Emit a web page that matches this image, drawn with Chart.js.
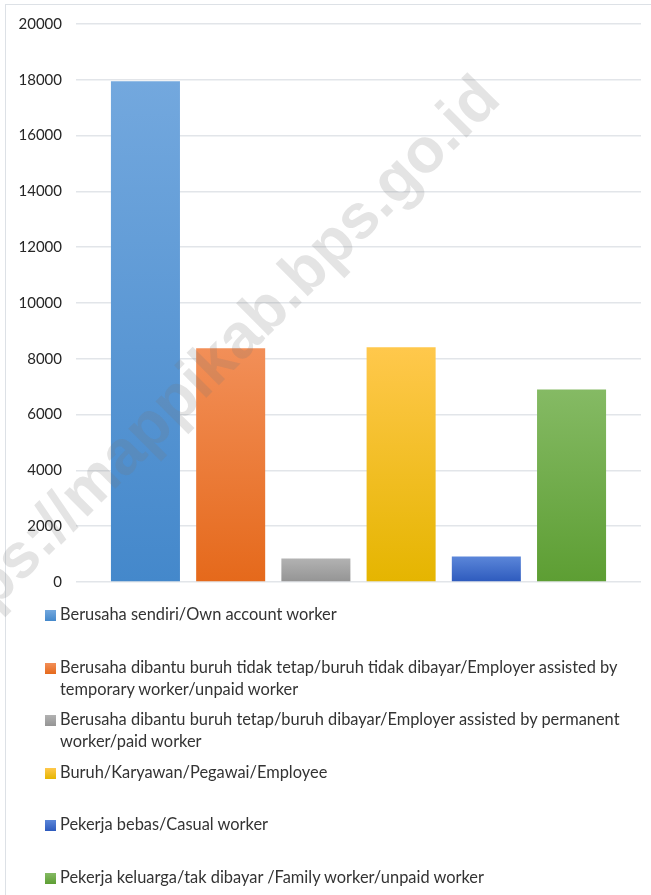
<!DOCTYPE html>
<html>
<head>
<meta charset="utf-8">
<script src="https://cdn.jsdelivr.net/npm/chart.js@4.4.1/dist/chart.umd.min.js"></script>
<style>
  html, body { margin: 0; padding: 0; background: #fff; }
  #page { position: relative; width: 651px; height: 895px; overflow: hidden; }
  #frame { position: absolute; left: 5px; top: 4px; right: -10px; bottom: -10px;
           border-left: 1px solid #dde1e6; border-top: 1px solid #dde1e6; }
  #chartBox { position: absolute; left: 0; top: 0; width: 651px; height: 605px; }
  #legend { position: absolute; left: 45px; top: 603px; width: 600px;
            font-family: Lato, sans-serif; font-size: 16.4px; color: #333; }
  .item { position: relative; height: 52.6px; }
  .box { position: absolute; left: 0; top: 7px; width: 11px; height: 11px; }
  .text { position: absolute; left: 15px; top: 0; width: 580px; line-height: 22px; }
  #mark { position: absolute; left: 0; top: 0; pointer-events: none; }
</style>
</head>
<body>
<div id="page">
  <div id="frame"></div>
  <div id="chartBox"><canvas id="chart"></canvas></div>
  <div id="legend"></div>
  <svg id="mark" width="651" height="895">
    <text x="-64" y="668" transform="rotate(-45 -64 668)" font-family="Liberation Sans, Arial, sans-serif"
          font-weight="bold" font-size="63" fill="rgba(120,120,120,0.2)">https://mappikab.bps.go.id</text>
  </svg>
</div>
<script>
// Data
const seriesNames = [
    'Berusaha sendiri/Own account worker',
    'Berusaha dibantu buruh tidak tetap/buruh tidak dibayar/Employer assisted by temporary worker/unpaid worker',
    'Berusaha dibantu buruh tetap/buruh dibayar/Employer assisted by permanent worker/paid worker',
    'Buruh/Karyawan/Pegawai/Employee',
    'Pekerja bebas/Casual worker',
    'Pekerja keluarga/tak dibayar /Family worker/unpaid worker'
];
const seriesValues = [17950, 8380, 840, 8410, 910, 6900];
const yTicks = [0, 2000, 4000, 6000, 8000, 10000, 12000, 14000, 16000, 18000, 20000];

// gradient colours (top, bottom)
const topColors = ['#73a8de', '#f28f58', '#b2b2b2', '#ffc84c', '#5b86d9', '#85ba64'];
const bottomColors = ['#4488cb', '#e5691b', '#949494', '#e5b500', '#2d5abd', '#5d9e33'];

function barFill(i) {
    return (ctx) => {
        const chart = ctx.chart;
        if (!chart.chartArea) return topColors[i];
        const y = chart.scales.y;
        const top = y.getPixelForValue(seriesValues[i]);
        const bottom = y.getPixelForValue(0);
        const g = chart.ctx.createLinearGradient(0, top, 0, bottom);
        g.addColorStop(0, topColors[i]);
        g.addColorStop(1, bottomColors[i]);
        return g;
    };
}

const datasets = seriesNames.map((name, i) => ({
    label: name,
    data: [seriesValues[i]],
    backgroundColor: barFill(i),
    borderWidth: 0,
    categoryPercentage: 0.905,
    barPercentage: 0.81
}));

const chart = new Chart(document.getElementById('chart'), {
    type: 'bar',
    data: { labels: [''], datasets: datasets },
    options: {
        responsive: true,
        maintainAspectRatio: false,
        animation: false,
        layout: { padding: { left: 0, right: 10, top: 24, bottom: 4 } },
        plugins: {
            legend: { display: false },
            tooltip: { enabled: false }
        },
        scales: {
            x: { display: false },
            y: {
                min: 0,
                max: 20000,
                afterFit: (scale) => { scale.width = 76; },
                afterBuildTicks: (scale) => { scale.ticks = yTicks.map(v => ({ value: v })); },
                grid: { color: '#e2e5e9', lineWidth: 1.5, drawTicks: false },
                border: { display: false },
                ticks: {
                    padding: 14,
                    color: '#262626',
                    font: { family: 'Lato', size: 15 },
                    callback: (v) => String(v)
                }
            }
        }
    }
});

// legend built from the datasets
const legend = document.getElementById('legend');
chart.data.datasets.forEach((ds, i) => {
    const item = document.createElement('div');
    item.className = 'item';
    const box = document.createElement('div');
    box.className = 'box';
    box.style.background = 'linear-gradient(' + topColors[i] + ',' + bottomColors[i] + ')';
    const text = document.createElement('div');
    text.className = 'text';
    text.textContent = ds.label;
    item.appendChild(box);
    item.appendChild(text);
    legend.appendChild(item);
});
</script>
</body>
</html>
